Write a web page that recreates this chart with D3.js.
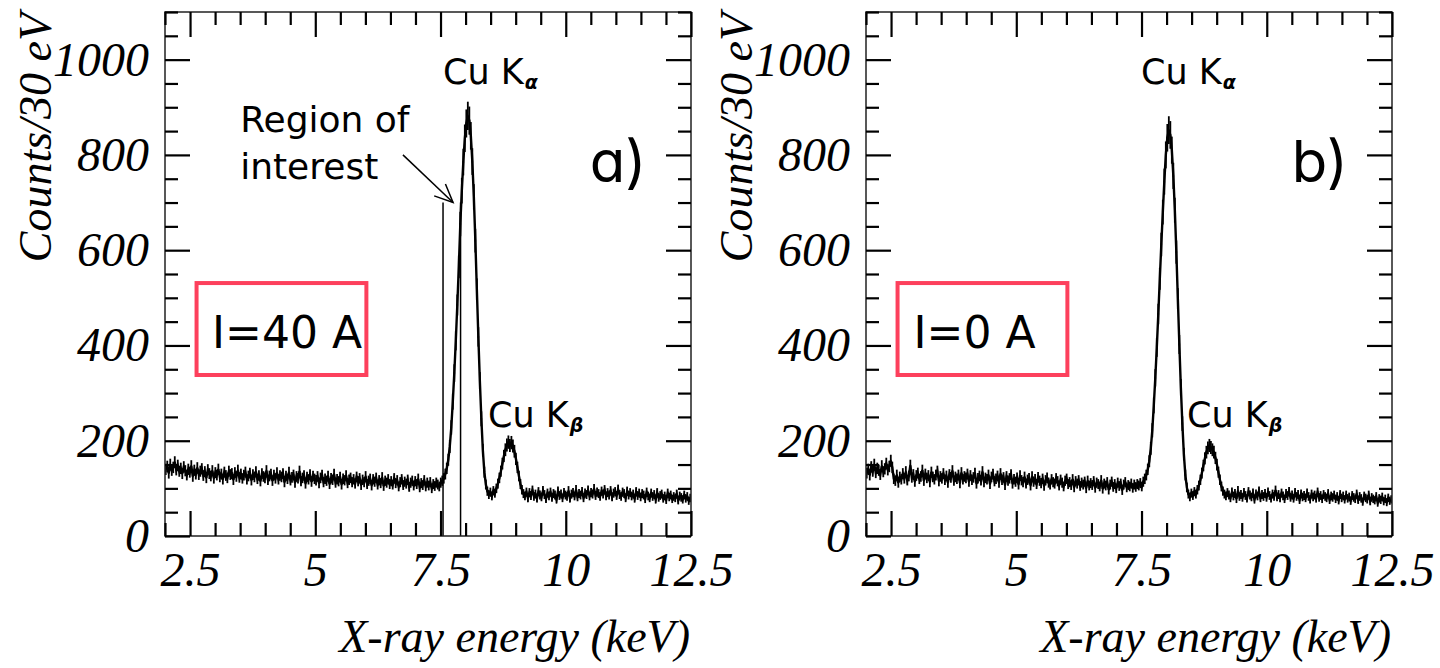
<!DOCTYPE html>
<html><head><meta charset="utf-8">
<script src="https://cdn.jsdelivr.net/npm/d3@7"></script>
<style>body{margin:0;background:#fff} svg{display:block}</style>
</head><body><svg id="c" width="1440" height="668"></svg>
<script>
// ---- data (30 eV bins starting at 2.00 keV) ----
const binStart = 2.0;
const binWidth = 0.03;

const countsA = [
140,146,132,150,138,144,155,139,148,136,142,131,145,137,128,140,134,147,125,138,130,143,129,136,141,
127,135,122,139,131,126,137,121,133,128,140,124,130,119,134,127,122,136,129,131,118,133,125,138,123,
130,121,128,134,119,126,132,117,129,124,135,120,127,115,131,125,122,137,118,126,130,116,128,121,133,
119,127,124,131,113,126,120,134,117,123,128,112,125,121,136,115,122,127,110,124,119,129,114,126,120,
117,125,111,122,128,113,120,116,126,109,121,118,130,112,119,115,124,108,120,117,127,111,118,122,113,
119,110,124,115,121,107,118,113,125,109,116,120,106,119,114,122,108,117,111,123,105,116,112,119,109,
115,108,121,111,117,104,113,119,107,114,110,118,103,112,116,106,115,109,120,102,111,107,117,104,112,
106,113,100,109,105,112,
108,104,112,116,121,130,142,160,188,228,282,342,410,485,565,655,725,785,835,866,
882,872,840,786,712,620,518,418,326,246,180,134,108,94,87,92,84,95,90,100,
110,122,136,152,168,181,191,197,190,196,189,178,162,144,126,109,97,89,84,92,
80,91,85,96,83,88,79,93,86,82,95,87,78,90,84,92,81,89,86,77,94,85,88,80,91,
86,83,95,79,88,91,84,97,82,89,86,93,80,90,87,96,84,91,88,99,85,92,89,83,94,
88,97,84,91,86,95,82,90,93,85,98,87,83,92,89,80,94,86,91,84,88,79,93,85,90,
82,89,86,78,92,84,80,90,83,87,77,91,81,85,88,79,84,76,90,82,86,78,83,80,88,75,84,81,77,86,79,83,74,80
];

const countsB = [
132,140,128,145,136,150,133,142,138,129,147,135,141,152,139,146,158,144,120,116,128,112,124,119,131,
121,135,117,126,148,123,129,114,127,132,120,125,138,116,130,122,127,113,134,124,119,128,136,115,125,
121,131,118,126,112,129,123,137,116,124,120,128,111,133,119,125,122,130,114,127,118,123,132,110,121,
126,117,135,113,122,119,128,109,124,130,115,120,126,112,131,118,123,107,125,116,121,129,110,119,114,
122,108,127,117,113,124,110,118,121,106,125,114,119,109,123,116,111,120,105,117,122,112,108,119,113,
110,121,115,106,118,112,104,116,120,109,113,107,119,102,115,110,117,105,112,108,114,100,116,106,111,
107,115,101,112,109,104,117,99,110,106,113,97,108,114,103,109,100,112,105,110,96,108,113,102,107,
104,110,101,108,103,109,
106,111,104,114,120,128,140,157,184,222,274,332,396,466,540,612,680,744,800,836,
852,842,810,756,684,596,498,402,312,236,172,128,102,88,82,90,85,93,88,97,
106,118,132,148,163,176,185,190,186,181,176,164,150,134,118,104,94,88,84,91,
86,80,92,84,89,78,95,83,87,81,91,85,79,93,86,82,90,77,88,84,94,80,87,83,89,
81,92,85,79,88,83,96,82,87,80,90,84,78,89,85,93,81,86,79,91,83,87,76,88,82,
85,80,90,83,77,88,82,86,79,92,81,85,78,87,83,80,89,76,84,81,86,78,83,75,87,
80,84,77,86,79,82,74,85,81,78,88,76,83,79,72,84,80,77,86,73,81,78,75,83,70,79,76,82,73,78,71,80,74,77
];

const xDomain = [2, 12.5];
const yDomain = [0, 1100];
const xMajorTicks = [2.5, 5, 7.5, 10, 12.5];
const xTickLabels = ["2.5", "5", "7.5", "10", "12.5"];
const yMajorTicks = [0, 200, 400, 600, 800, 1000];
const yTickLabels = ["0", "200", "400", "600", "800", "1000"];
const xAxisTitle = "X-ray energy (keV)";
const yAxisTitle = "Counts/30 eV";

const panelLetters = ["a)", "b)"];
const currentLabels = ["I=40 A", "I=0 A"];
// peak label anchors (keV, counts)
const kAlphaLabelPos = [[7.55, 949], [7.49, 949]];
const kBetaLabelPos = [[8.45, 229], [8.41, 229]];
const letterPos = [[10.48, 743], [10.5, 743]];
const boxX = [2.63, 6.02];
const boxY = [338, 531];
const currentTextPos = [[2.94, 395], [2.95, 395]];
// region of interest (panel a)
const roiEdges = [7.55, 7.9];
const roiTop = 700;
const roiArrow = [[6.75, 800], [7.75, 700]];
const roiText = ["Region of", "interest"];
const roiTextPos = [[3.5, 848], [3.5, 749]];

// ---- drawing ----
const svg = d3.select("#c");
const panelLeft = [165, 866];
const W = 526, plotTop = 12, plotBottom = 536;
const serif = "'Liberation Serif', 'Times New Roman', serif";
const sans = "'DejaVu Sans', sans-serif";
const boxColor = "#fd405c";

[countsA, countsB].forEach((counts, p) => {
  const L = panelLeft[p];
  const x = d3.scaleLinear().domain(xDomain).range([L, L + W]);
  const y = d3.scaleLinear().domain(yDomain).range([plotBottom, plotTop]);
  const g = svg.append("g");

  const clipId = "clip" + p;
  svg.append("clipPath").attr("id", clipId).append("rect")
    .attr("x", L).attr("y", plotTop).attr("width", W).attr("height", plotBottom - plotTop);

  // red box
  g.append("rect")
    .attr("x", x(boxX[0])).attr("y", y(boxY[1]))
    .attr("width", x(boxX[1]) - x(boxX[0])).attr("height", y(boxY[0]) - y(boxY[1]))
    .attr("fill", "none").attr("stroke", boxColor).attr("stroke-width", 4);

  // data
  const pts = counts.map((c, i) => [binStart + (i + 0.5) * binWidth, c]);
  const dg = g.append("g").attr("clip-path", `url(#${clipId})`);
  dg.append("path").datum(pts)
    .attr("d", d3.line().x(d => x(d[0])).y(d => y(d[1])))
    .attr("fill", "none").attr("stroke", "#000").attr("stroke-width", 2.4);
  dg.selectAll("line.err").data(pts).join("line").attr("class", "err")
    .attr("x1", d => x(d[0])).attr("x2", d => x(d[0]))
    .attr("y1", d => y(d[1] - Math.sqrt(d[1]))).attr("y2", d => y(d[1] + Math.sqrt(d[1])))
    .attr("stroke", "#000").attr("stroke-width", 1.8);
  dg.selectAll("line.bin").data(pts).join("line").attr("class", "bin")
    .attr("x1", d => x(d[0] - binWidth / 2)).attr("x2", d => x(d[0] + binWidth / 2))
    .attr("y1", d => y(d[1])).attr("y2", d => y(d[1]))
    .attr("stroke", "#000").attr("stroke-width", 2);

  // ROI lines + arrow (panel a)
  if (p === 0) {
    roiEdges.forEach(e => {
      g.append("line").attr("x1", x(e)).attr("x2", x(e)).attr("y1", y(roiTop)).attr("y2", y(0))
        .attr("stroke", "#000").attr("stroke-width", 1.5);
    });
    const [a0, a1] = roiArrow;
    const x0 = x(a0[0]), y0 = y(a0[1]), x1 = x(a1[0]), y1 = y(a1[1]);
    g.append("line").attr("x1", x0).attr("y1", y0).attr("x2", x1).attr("y2", y1)
      .attr("stroke", "#000").attr("stroke-width", 1.5);
    const ang = Math.atan2(y1 - y0, x1 - x0), hl = 20, ha = 0.42;
    g.append("path")
      .attr("d", `M${x1 - hl * Math.cos(ang - ha)},${y1 - hl * Math.sin(ang - ha)} L${x1},${y1} L${x1 - hl * Math.cos(ang + ha)},${y1 - hl * Math.sin(ang + ha)}`)
      .attr("fill", "none").attr("stroke", "#000").attr("stroke-width", 1.5);
    roiText.forEach((t, i) => {
      g.append("text").attr("x", x(roiTextPos[i][0])).attr("y", y(roiTextPos[i][1]))
        .attr("font-family", sans).attr("font-size", 36).text(t);
    });
  }

  // frame
  g.append("rect").attr("x", L).attr("y", plotTop).attr("width", W).attr("height", plotBottom - plotTop)
    .attr("fill", "none").attr("stroke", "#222").attr("stroke-width", 1.5);

  // ticks via axes
  const yMinor = d3.range(0, 1101, 50).filter(v => !yMajorTicks.includes(v));
  const xMinor = d3.range(2, 12.51, 0.5).filter(v => !xMajorTicks.includes(v));
  const tickStyle = sel => {
    sel.select(".domain").remove();
    sel.selectAll(".tick line").attr("stroke", "#000").attr("stroke-width", 2.2);
  };
  const addAxis = (axis, tx, ty) => g.append("g").attr("transform", `translate(${tx},${ty})`).call(axis).call(tickStyle);
  addAxis(d3.axisRight(y).tickValues(yMinor).tickSize(13).tickFormat(""), L, 0);
  addAxis(d3.axisRight(y).tickValues(yMajorTicks).tickSize(25).tickFormat(""), L, 0);
  addAxis(d3.axisLeft(y).tickValues(yMinor).tickSize(13).tickFormat(""), L + W, 0);
  addAxis(d3.axisLeft(y).tickValues(yMajorTicks).tickSize(25).tickFormat(""), L + W, 0);
  addAxis(d3.axisTop(x).tickValues(xMinor).tickSize(13).tickFormat(""), 0, plotBottom);
  addAxis(d3.axisTop(x).tickValues(xMajorTicks).tickSize(25).tickFormat(""), 0, plotBottom);
  addAxis(d3.axisBottom(x).tickValues(xMinor).tickSize(13).tickFormat(""), 0, plotTop);
  addAxis(d3.axisBottom(x).tickValues(xMajorTicks).tickSize(25).tickFormat(""), 0, plotTop);

  // tick labels
  const yl = g.append("g").attr("transform", `translate(${L},0)`)
    .call(d3.axisLeft(y).tickValues(yMajorTicks).tickSize(0).tickPadding(16)
      .tickFormat((d, i) => yTickLabels[i]));
  yl.select(".domain").remove();
  yl.selectAll("text").attr("font-family", serif).attr("font-style", "italic")
    .attr("font-size", 48).attr("fill", "#000");
  const xl = g.append("g").attr("transform", `translate(0,${plotBottom})`)
    .call(d3.axisBottom(x).tickValues(xMajorTicks).tickSize(0).tickPadding(16)
      .tickFormat((d, i) => xTickLabels[i]));
  xl.select(".domain").remove();
  xl.selectAll("text").attr("font-family", serif).attr("font-style", "italic")
    .attr("font-size", 48).attr("fill", "#000");

  // axis titles
  g.append("text").attr("x", L + W - 1).attr("y", 652).attr("text-anchor", "end")
    .attr("font-family", serif).attr("font-style", "italic").attr("font-size", 46).text(xAxisTitle);
  g.append("text").attr("transform", `translate(${L - 114},${plotTop + 1}) rotate(-90)`)
    .attr("text-anchor", "end")
    .attr("font-family", serif).attr("font-style", "italic").attr("font-size", 46).text(yAxisTitle);

  // peak labels
  const peakLabel = (pos, sub) => {
    const t = g.append("text").attr("x", x(pos[0])).attr("y", y(pos[1]))
      .attr("font-family", sans).attr("font-size", 35);
    t.append("tspan").text("Cu K");
    t.append("tspan").attr("font-size", 19).attr("font-weight", "bold").attr("font-style", "italic")
      .attr("dy", 5).attr("dx", 1).text(sub);
  };
  peakLabel(kAlphaLabelPos[p], "α");
  peakLabel(kBetaLabelPos[p], "β");

  // panel letter
  g.append("text").attr("x", x(letterPos[p][0])).attr("y", y(letterPos[p][1]))
    .attr("font-family", "Inter, " + sans).attr("font-size", 58).attr("font-weight", 400)
    .style("font-feature-settings", "'cv11'").text(panelLetters[p]);

  // current label
  g.append("text").attr("x", x(currentTextPos[p][0])).attr("y", y(currentTextPos[p][1]))
    .attr("font-family", sans).attr("font-size", 44).text(currentLabels[p]);
});
</script></body></html>
